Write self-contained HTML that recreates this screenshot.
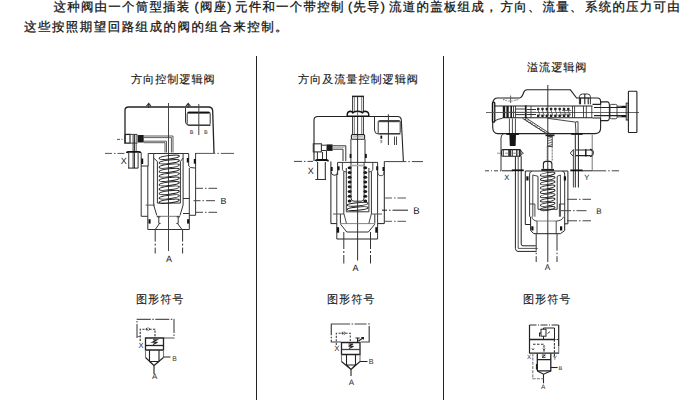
<!DOCTYPE html>
<html><head><meta charset="utf-8">
<style>
html,body{margin:0;padding:0;background:#fff;}
body{width:690px;height:400px;position:relative;overflow:hidden;font-family:"Liberation Sans",sans-serif;color:#111;text-rendering:geometricPrecision;}
.t{position:absolute;white-space:nowrap;line-height:1;}
.p1{left:53px;top:1px;font-size:12.5px;letter-spacing:1.2px;-webkit-text-stroke:0.25px #111;}
.p2{left:24px;top:21px;font-size:12.5px;letter-spacing:1.45px;-webkit-text-stroke:0.25px #111;}
.h{font-size:11.2px;letter-spacing:0.9px;color:#151515;-webkit-text-stroke:0.12px #151515;}
svg{position:absolute;left:0;top:0;}
</style></head><body>
<div class="t p1" style="left:53.5px">这种阀由一个筒型插装</div>
<div class="t p1" style="left:194.6px">(阀座)</div>
<div class="t p1" style="left:235px">元件和一个带控制</div>
<div class="t p1" style="left:348px">(先导)</div>
<div class="t p1" style="left:389.1px">流道的盖板组成，</div>
<div class="t p1" style="left:500.6px">方向、</div>
<div class="t p1" style="left:542.6px">流量、</div>
<div class="t p1" style="left:585px">系统的压力可由</div>
<div class="t p2">这些按照期望回路组成的阀的组合来控制。</div>
<div class="t h" style="left:131px;top:74.5px">方向控制逻辑阀</div>
<div class="t h" style="left:298px;top:74.5px">方向及流量控制逻辑阀</div>
<div class="t h" style="left:527px;top:62.5px">溢流逻辑阀</div>
<div class="t h" style="left:136px;top:294.5px">图形符号</div>
<div class="t h" style="left:327px;top:294.5px">图形符号</div>
<div class="t h" style="left:523px;top:294.5px">图形符号</div>
<div style="position:absolute;left:256px;top:56px;width:1px;height:344px;background:#222"></div>
<div style="position:absolute;left:443px;top:56px;width:1px;height:344px;background:#222"></div>
<svg width="690" height="400" viewBox="0 0 690 400">
<g id="d1" fill="none" stroke="#333" stroke-width="1">
 <!-- cover -->
 <path d="M125,144 L125,110.5 Q125,107 128.5,107 L208.5,107 Q212.5,107 212.7,111 L214,153" stroke="#222" stroke-width="1.3"/>
 <path d="M146.5,106.2 l2.2,-2.8 l2.2,2.8 M148.7,104 v4 M186,106.2 l2.2,-2.8 l2.2,2.8 M188.2,104 v4" stroke-width="1.1"/>
 <path d="M185.5,107.5 V121 Q185.5,125.4 190,125.4 H210.5" stroke-width="1"/>
 <rect x="187.2" y="112" width="23" height="13" rx="1.5"/>
 <path d="M188,112.8 H209.5" stroke="#111" stroke-width="1.6"/>
 <text x="189.7" y="133.8" font-size="5.5" fill="#333" stroke="none" font-family="Liberation Sans">B</text>
 <text x="204" y="133.8" font-size="5.5" fill="#333" stroke="none" font-family="Liberation Sans">B</text>
 <path d="M198.8,104 V135" stroke="#444"/>
 <!-- centerline -->
 <path d="M168.5,103 V251" stroke="#444"/>
 <!-- fitting & pipe -->
 <path d="M130,134.4 H126.5 Q125,134.4 125,136 V141.5 Q125,143.1 126.5,143.1 H130 Z" stroke="#222" stroke-width="1.1"/>
 <rect x="137.5" y="135" width="6.2" height="7.5" fill="#1a1a1a" stroke="none"/>
 <path d="M130,134.4 H137.5 M130,143.1 H137.5" stroke-width="0.9"/>
 <path d="M133.1,134.4 V168.1 M134.5,134.4 V168.1" stroke="#222" stroke-width="0.9"/>
 <path d="M136.2,134.4 V151" stroke-width="0.8"/>
 <path d="M128.75,153 V168.1 M138.1,153 V168.1" stroke-width="1"/>
 <path d="M143.7,136 H173 V152.5 M143.7,137.6 H171.4 V152.5 M143.7,141.2 H166.5 V152.5 M143.7,142.7 H165 V152.5" stroke-width="0.8"/>
 <path d="M117,139.4 H125" stroke="#555" stroke-dasharray="3,1.5,1,1.5"/>
 <path d="M128.1,168.1 H138.1" stroke="#222"/>
 <!-- body top line -->
 <path d="M105,153.4 H124.5" stroke="#555" stroke-dasharray="7,2,1.5,2"/>
 <path d="M126.5,152.8 Q127,151.8 129,151.8 H138.5 Q140.6,151.8 140.6,153" stroke="#111" stroke-width="1.8"/>
 <path d="M195.3,153.4 H234" stroke="#555" stroke-dasharray="20,2,1.5,2,15"/>
 <!-- body walls -->
 <path d="M141.2,153 V216.3 M195.6,153 V215.3"/>
 <!-- cap -->
 <path d="M148.2,166 V153.5 H188.7 V166 Q189,168 195,168"/>
 <path d="M141,166 H148.2"/>
 <path d="M147.8,166 V229.5 M153.7,153.5 V205 M183.1,153.5 V205 M189.3,168 V229.5"/>
 <rect x="141.2" y="158.5" width="2" height="5.5" fill="#111" stroke="none"/>
 <rect x="186.8" y="158" width="2" height="4.5" fill="#111" stroke="none"/>
 <rect x="193.8" y="159" width="2" height="4.7" fill="#111" stroke="none"/>
 <!-- spring -->
 <path d="M153.7,158 L157.4,161.5 V203.1 H180.4 V161.5 L183.1,158"/>
 <g stroke="#222" stroke-width="1">
  <ellipse cx="169.2" cy="157.3" rx="10.2" ry="1.75" transform="rotate(-7 169.2 157.3)"/>
  <ellipse cx="169.2" cy="161.7" rx="10.2" ry="1.75" transform="rotate(-7 169.2 161.7)"/>
  <ellipse cx="169.2" cy="166.1" rx="10.2" ry="1.75" transform="rotate(-7 169.2 166.1)"/>
  <ellipse cx="169.2" cy="170.5" rx="10.2" ry="1.75" transform="rotate(-7 169.2 170.5)"/>
  <ellipse cx="169.2" cy="174.9" rx="10.2" ry="1.75" transform="rotate(-7 169.2 174.9)"/>
  <ellipse cx="169.2" cy="179.3" rx="10.2" ry="1.75" transform="rotate(-7 169.2 179.3)"/>
  <ellipse cx="169.2" cy="183.7" rx="10.2" ry="1.75" transform="rotate(-7 169.2 183.7)"/>
  <ellipse cx="169.2" cy="188.1" rx="10.2" ry="1.75" transform="rotate(-7 169.2 188.1)"/>
  <ellipse cx="169.2" cy="192.5" rx="10.2" ry="1.75" transform="rotate(-7 169.2 192.5)"/>
  <ellipse cx="169.2" cy="196.9" rx="10.2" ry="1.75" transform="rotate(-7 169.2 196.9)"/>
  <ellipse cx="169.2" cy="201.3" rx="10.2" ry="1.75" transform="rotate(-7 169.2 201.3)"/>
 </g>
 <!-- poppet / bottom -->
 <path d="M153.7,205 L156.8,215.5 M183.1,205 L180,215.5"/>
 <path d="M156.8,216.3 H180" stroke="#777"/>
 <path d="M156.8,216.8 H160.4 M158.8,217 V223.4 H160.6 M180,216.8 H176.6 M178.2,217 V223.4 H176.4"/>
 <path d="M159.5,223.4 L155.3,229.5 M177.5,223.4 L182,229.5"/>
 <path d="M147.8,229.5 H189.3"/>
 <rect x="148.5" y="219.2" width="2.1" height="4.4" fill="#111" stroke="none"/>
 <rect x="187.1" y="219.2" width="2.1" height="4.4" fill="#111" stroke="none"/>
 <path d="M141.2,216.3 H147.8 M195.6,215.3 H189.3"/>
 <path d="M145.6,205.1 H155" stroke="#555"/>
 <!-- B window -->
 <path d="M183,198.5 H189.7 M183,213.5 H189.7"/>
 <!-- A port -->
 <path d="M155.2,229.6 V253.5 M182.6,229.6 V253.5" stroke-dasharray="12,2,2,2,6"/>
 <!-- B port -->
 <path d="M196,188.3 H217 M193.5,200.7 H218 M196,212.3 H217" stroke="#444" stroke-dasharray="7,2,1.5,2,9"/>
</g>
<text x="166.1" y="261.5" font-size="9" fill="#222" font-family="Liberation Sans">A</text>
<text x="220.4" y="204" font-size="8.8" fill="#222" font-family="Liberation Sans">B</text>
<text x="120.7" y="163.6" font-size="9" fill="#222" font-family="Liberation Sans">X</text>
<g id="d2" fill="none" stroke="#333" stroke-width="1">
 <!-- stem -->
 <path d="M352.6,135 V96.4 H363.4 V135" stroke-width="1"/>
 <path d="M352,96.4 H364" stroke="#222" stroke-width="1.4"/>
 <path d="M354.4,97 V134.5 M361.6,97 V134.5" stroke="#666" stroke-width="0.8"/>
 <path d="M357.6,97 V260.5" stroke="#333"/>
 <!-- lock nut -->
 <path d="M347.2,116.3 V114.5 Q347.5,111.3 350.5,111.3 Q352.6,111.5 352.8,113.5 Q353,111.2 357.6,111.2 Q362.2,111.2 362.4,113.5 Q362.6,111.5 364.7,111.3 Q368.5,111.3 368.8,114.5 V116.3 Z" fill="#fff" stroke="#111" stroke-width="1.4"/>
 <path d="M357.6,111.5 V116" stroke="#555" stroke-width="0.8"/>
 <!-- cover -->
 <path d="M314,161 V120 Q314,116.5 318,116.5 H347 M369,116.5 H397.5 Q401,116.5 401.3,120 L403.4,161.5" stroke="#222" stroke-width="1.1"/>
 <path d="M374.5,117 V130 Q374.5,134 378.5,134 H400.5"/>
 <rect x="378.2" y="120.6" width="22" height="13" rx="1.2"/>
 <path d="M379,121.4 H399.5" stroke="#444" stroke-width="1.6"/>
 <path d="M388.4,114.3 V145" stroke="#333"/>
 <path d="M381.3,135.6 V138.7" stroke="#111" stroke-width="1.8"/>
 <path d="M381.3,139.7 V143.1" stroke="#999" stroke-width="1.8"/>
 <path d="M394.5,136.5 V145 M396.5,136.5 V145" stroke-width="0.9"/>
 <!-- stem guide -->
 <rect x="351.4" y="134.6" width="13.2" height="4.6" rx="1" stroke="#222" stroke-width="1.1"/>
 <path d="M352.5,136.9 H363.5" stroke="#777" stroke-width="0.8"/>
 <path d="M350.9,162.5 V139.2 M365,162.5 V139.2"/>
 <rect x="349.6" y="153.9" width="1.8" height="4.1" fill="#111" stroke="none"/>
 <rect x="365" y="153.9" width="1.8" height="4.1" fill="#111" stroke="none"/>
 <!-- fitting & pipe -->
 <rect x="313.3" y="143.8" width="8.1" height="8.1" stroke-width="1.1"/>
 <rect x="326.5" y="144.4" width="6.1" height="6.5" fill="#1a1a1a" stroke="none"/>
 <path d="M321.4,145.2 H326.5 M321.4,150.5 H326.5"/>
 <path d="M332.6,145.8 H345.8 V161 M332.6,149.2 H343 V161"/>
 <path d="M332.6,147.5 H344.5" stroke="#999" stroke-width="0.7"/>
 <path d="M317.4,152 V161 M322.5,152 V161 M326.5,151 V161"/>
 <!-- body top -->
 <path d="M294,161.4 H313" stroke="#444" stroke-dasharray="8,2,1.5,2"/>
 <path d="M315.5,161 Q316,160 318,160 H326 Q328,160 328.3,161.4" stroke="#111" stroke-width="1.8"/>
 <path d="M384.3,161.6 H423" stroke="#444" stroke-dasharray="22,2,1.5,2,20"/>
 <path d="M317.6,162 V179 M325.3,162 V179 M315.4,179.5 H326.1" stroke-width="1.1"/>
 <!-- body -->
 <path d="M330.9,161.4 V223.6 H337 M384.3,161.6 V223.6 H377.5" stroke="#222"/>
 <path d="M337.6,175 V162.4 H377.6 V175"/><path d="M331.2,171.5 Q331.2,175.2 334,175.2 H335 Q337.6,175.2 337.6,171.5 M377.6,171.5 Q377.6,175.6 380.5,175.6 H381.5 Q384,175.6 384,171.5"/>
 <path d="M336.8,175 V239 M377.6,175 V239"/>
 <path d="M343.8,172 V214 M371.4,172 V214 M340.4,214 V223.6 M374.8,214 V223.6"/>
 <path d="M342.4,162.4 V169.5 Q342.6,172 346.3,172 M372.8,162.4 V169.5 Q372.6,172 368.9,172" stroke-width="0.9"/>
 <rect x="337.6" y="166.3" width="2" height="4" fill="#111" stroke="none"/>
 <rect x="376.2" y="166.3" width="2" height="4" fill="#111" stroke="none"/>
 <rect x="330.9" y="167" width="1.8" height="4" fill="#111" stroke="none"/>
 <rect x="382.5" y="167" width="1.8" height="4" fill="#111" stroke="none"/>
 <!-- stem inside + spring -->
 <path d="M351,162 V198 Q351,201.2 354,201.2 H361.2 Q364.1,201.2 364.1,198 V162" />
 <path d="M351,165.5 H364.1" stroke="#aaa" stroke-width="1.6"/>
 <path d="M346.3,168 V211.8 H368.9 V168"/>
 <g fill="#1a1a1a" stroke="none">
  <ellipse cx="349.6" cy="167.8" rx="1.9" ry="1.5"/><ellipse cx="365.3" cy="167.8" rx="1.9" ry="1.5"/>
  <ellipse cx="349.6" cy="172.6" rx="1.9" ry="1.5"/><ellipse cx="365.3" cy="172.6" rx="1.9" ry="1.5"/>
  <ellipse cx="349.6" cy="177.3" rx="1.9" ry="1.5"/><ellipse cx="365.3" cy="177.3" rx="1.9" ry="1.5"/>
  <ellipse cx="349.6" cy="182.1" rx="1.9" ry="1.5"/><ellipse cx="365.3" cy="182.1" rx="1.9" ry="1.5"/>
  <ellipse cx="349.6" cy="186.8" rx="1.9" ry="1.5"/><ellipse cx="365.3" cy="186.8" rx="1.9" ry="1.5"/>
  <ellipse cx="349.6" cy="191.6" rx="1.9" ry="1.5"/><ellipse cx="365.3" cy="191.6" rx="1.9" ry="1.5"/>
  <ellipse cx="349.6" cy="196.3" rx="1.9" ry="1.5"/><ellipse cx="365.3" cy="196.3" rx="1.9" ry="1.5"/>
  <ellipse cx="349.6" cy="201.1" rx="1.9" ry="1.5"/><ellipse cx="365.3" cy="201.1" rx="1.9" ry="1.5"/>
</g>
<g stroke="#222" stroke-width="1" fill="none">
  <ellipse cx="357.6" cy="204.3" rx="10.5" ry="1.6" transform="rotate(-5 357.6 204.3)"/>
  <ellipse cx="357.6" cy="208.6" rx="10.5" ry="1.6" transform="rotate(-5 357.6 208.6)"/>
 </g>
 <!-- poppet / bottom -->
 <path d="M333,214 H344 M371.3,214 H382" stroke="#555"/>
 <path d="M344,214 L346.5,223.6 M371.3,214 L368.8,223.6" stroke-width="0.9"/>
 <path d="M336.8,239 H377.6" stroke="#222"/>
 <path d="M340.5,224.2 L346.8,232 H368.4 L374.8,224.2"/>
 <path d="M340.5,223.6 H374.5" stroke="#666" stroke-width="0.8"/>
 <rect x="336.8" y="227.2" width="2.3" height="5.5" fill="#111" stroke="none"/>
 <rect x="375.3" y="227.2" width="2.3" height="5.5" fill="#111" stroke="none"/>
 <!-- A port -->
 <path d="M343.8,232 V263.5 M370.5,232 V263.5" stroke-dasharray="17,2,2,2,10"/>
 <!-- B port -->
 <path d="M385,198 H406 M385,221.3 H406" stroke="#555" stroke-dasharray="7,2,1.5,2,9"/><path d="M382,210.2 H408" stroke="#222" stroke-dasharray="5,2,1.5,2,17"/>
</g>
<text x="352.4" y="271" font-size="9" fill="#222" font-family="Liberation Sans">A</text>
<text x="413.2" y="214" font-size="9.6" fill="#222" font-family="Liberation Sans">B</text>
<text x="307.7" y="174" font-size="9" fill="#222" font-family="Liberation Sans">X</text>
<g id="d3" fill="none" stroke="#333" stroke-width="1">
 <!-- cover outline -->
 <path d="M492.7,127 V103 Q493.5,98 497.5,98 H519.6 Q522,97.5 523.5,93 Q524.5,89.8 527,89.8 H570.4 L576.6,98 H597.3 Q600.6,98 600.6,101.5 V104.4" stroke="#222" stroke-width="1.1"/>
 <path d="M600.6,120.6 V128 Q600.6,133.6 595,133.6 H498 Q492.7,133.6 492.7,127" stroke="#222" stroke-width="1.1"/>
 <path d="M503,99.7 Q510.5,96.8 518.2,99.7 Q510.5,102.4 503,99.7" stroke="#777" stroke-width="0.8" stroke-dasharray="2,1"/>
 <path d="M510.6,95.5 V103" stroke="#555" stroke-width="0.9"/>
 <!-- bore -->
 <path d="M494,106 H592.5 M502.4,117.8 H592.5" stroke="#222" stroke-width="1.1"/>
 <path d="M494.2,121 Q498,119 502.4,118.3" />
 <rect x="492.4" y="102.2" width="2.4" height="20" rx="1" fill="#bbb" stroke="#111" stroke-width="1.2"/>
 <path d="M486,112.5 H639" stroke="#555" stroke-width="0.9"/>
 <!-- spool internals -->
 <g fill="#1a1a1a" stroke="none">
  <rect x="502.8" y="106" width="2.4" height="12"/>
  <rect x="506.4" y="106" width="2.3" height="12"/>
  <rect x="510.4" y="106" width="1.6" height="12"/>
  <rect x="524.9" y="105.5" width="1.7" height="13"/>
 </g>
 <path d="M513.5,106 V118 M515.5,106 V118 M531,106 V118" stroke-width="0.9"/>
 <path d="M515.5,109 H524.9 M515.5,114.6 H524.9 M526.6,109.5 H536 M526.6,114.5 H536"/>
 <path d="M503,112.3 H536" stroke="#555" stroke-width="0.8"/>
 <g fill="#222" stroke="none"><rect x="537.0" y="107.8" width="2.4" height="2.4" rx="0.6"/><rect x="537.0" y="114.6" width="2.4" height="2.4" rx="0.6"/><rect x="541.3" y="107.8" width="2.4" height="2.4" rx="0.6"/><rect x="541.3" y="114.6" width="2.4" height="2.4" rx="0.6"/><rect x="545.6" y="107.8" width="2.4" height="2.4" rx="0.6"/><rect x="545.6" y="114.6" width="2.4" height="2.4" rx="0.6"/><rect x="549.9" y="107.8" width="2.4" height="2.4" rx="0.6"/><rect x="549.9" y="114.6" width="2.4" height="2.4" rx="0.6"/><rect x="554.2" y="107.8" width="2.4" height="2.4" rx="0.6"/><rect x="554.2" y="114.6" width="2.4" height="2.4" rx="0.6"/><rect x="558.5" y="107.8" width="2.4" height="2.4" rx="0.6"/><rect x="558.5" y="114.6" width="2.4" height="2.4" rx="0.6"/><rect x="562.8" y="107.8" width="2.4" height="2.4" rx="0.6"/><rect x="562.8" y="114.6" width="2.4" height="2.4" rx="0.6"/><rect x="567.1" y="107.8" width="2.4" height="2.4" rx="0.6"/><rect x="567.1" y="114.6" width="2.4" height="2.4" rx="0.6"/></g>
 <path d="M537.8,109.5 L540.0,115.5 M542.1,109.5 L544.3,115.5 M546.4,109.5 L548.6,115.5 M550.7,109.5 L552.9,115.5 M555.0,109.5 L557.2,115.5 M559.3,109.5 L561.5,115.5 M563.6,109.5 L565.8,115.5 M567.9,109.5 L570.1,115.5 " stroke="#444" stroke-width="0.8"/>
 <path d="M562,110.5 H571 M562,114.2 H571" stroke="#555" stroke-width="0.8"/>
 <path d="M572.5,106 V118 M574.6,106 V118 M583.5,106 V118 M586.3,106 V118 M591.8,106 V118" stroke-width="0.9"/>
 <path d="M547.8,85 V262" stroke="#333"/>
 <!-- top screw right -->
 <path d="M579.4,104.3 V96.5 Q579.8,94 582.5,94 H587.5 Q590.2,94 590.4,96.5 V104.3" stroke-width="1"/>
 <path d="M579.6,98 H590.2" stroke-width="0.8"/>
 <path d="M580.5,98 V104.3 M584.8,94 V104.3 M588.2,98 V104.3" stroke="#222" stroke-width="1.1"/>
 <!-- adjusting nut & screw & handwheel -->
 <path d="M592.5,104.4 H600.6 V101.9 H608 Q609.4,102.5 609.4,105 V117.5 Q609.4,120 608,120.6 H600.6 V118 H592.5" stroke="#222" stroke-width="1.1"/>
 <path d="M600.6,104.4 V118" stroke="#555" stroke-width="0.8"/>
 <path d="M610,105.5 Q610,104.4 611.5,104.4 H615.5 Q617,104.4 617,105.5 V117.6 Q617,118.75 615.5,118.75 H611.5 Q610,118.75 610,117.6 Z" stroke-width="0.9"/>
 <path d="M594,107.5 H626.2 M594,115.6 H626.2" stroke="#222" stroke-width="1.1"/>
 <path d="M617,106.25 H626.2 M617,116.9 H626.2" stroke-width="0.9"/>
 <path d="M621.5,106.8 H626.2 M621.5,116.2 H626.2" stroke="#111" stroke-width="1.6"/>
 <rect x="626.2" y="103.1" width="1.9" height="16.9" stroke-width="1"/>
 <rect x="628.4" y="91.3" width="8.5" height="41.2" rx="0.6" stroke="#222" stroke-width="1.1"/>
 <!-- diagonal passages -->
 <path d="M522.5,118.3 L547,134 M526.5,118.3 L550.5,134" stroke-width="0.9"/>
 <path d="M524,119.5 l2.2,0 M526.3,121 l2.2,0 M528.6,122.5 l2.2,0 M530.9,124 l2.2,0 M533.2,125.5 l2.2,0 M535.5,127 l2.2,0 M537.8,128.5 l2.2,0 M540.1,130 l2.2,0 M542.4,131.5 l2.2,0 M544.7,133 l2.2,0" stroke="#444" stroke-width="1.1"/>
 <path d="M547.8,118.3 L575.3,122.1 L578,121.5 V133.6 M575.3,122.1 L576,133.6" stroke-width="0.9"/>
 <!-- left pipe X -->
 <path d="M509.4,118.5 V133 M512.4,118.5 V133 M515.4,118.5 V133" stroke-width="0.9"/>
 <path d="M506.4,134" stroke="#111" stroke-width="2"/>
 <path d="M506.4,134 H519" stroke="#111" stroke-width="1.8"/>
 <path d="M509.4,134.6 H516 L515.6,146 H509.8 Z" fill="#151515" stroke="none"/>
 <path d="M501,170.6 V138 Q501,134.5 503.5,134"/>
 <rect x="501.6" y="149.6" width="19.2" height="6.6" rx="1.2" stroke="#222" stroke-width="1.1"/>
 <path d="M503.4,149.6 V156.2 M512.4,149.6 V156.2" stroke-width="0.9"/>
 <rect x="508.2" y="149.6" width="3" height="6.6" fill="#333" stroke="none"/>
 <path d="M516.8,149.6 V156.2 M519.5,149.4 V156.4" stroke="#222" stroke-width="1.3"/>
 <path d="M520.8,150.5 L523,153.2 L520.8,155.5" stroke-width="0.8"/>
 <path d="M497,153.2 H524" stroke="#666" stroke-width="0.7" stroke-dasharray="4,1.5,1,1.5"/>
 <path d="M515.4,156.2 V248.4 Q515.6,251.4 518,251.4 H536.6" stroke="#222" stroke-width="1"/>
 <path d="M518.2,156.2 V248.4 H537.7" stroke="#555" stroke-width="1"/>
 <path d="M521.2,156.2 V244 Q521.2,245.8 523,245.8 H535.8" stroke="#222" stroke-width="1"/>
 <path d="M511.8,170.3 H523.8" stroke="#111" stroke-width="1.8"/>
 <!-- right pipe Y -->
 <path d="M571.2,134 H582.6" stroke="#111" stroke-width="1.6"/>
 <path d="M573.4,149.4 V187.5" stroke-width="0.9"/>
 <path d="M575.3,134 V187.5 M578.4,134 V187.5" stroke="#222" stroke-width="1"/>
 <path d="M573.4,149.6 L570.3,153.1 L573.4,156.4" stroke-width="1"/>
 <path d="M575.6,150 H590 M575.6,155.6 H590" stroke="#222" stroke-width="1.1"/>
 <path d="M585.8,149.3 V156.5" stroke="#111" stroke-width="1.4"/>
 <path d="M590,149.5 Q593,149.5 593,152.8 Q593,156.2 590,156.2" stroke="#111" stroke-width="1.5"/>
 <path d="M570.3,170.4 H582.6" stroke="#111" stroke-width="1.8"/>
 <path d="M592.2,134.5 V170.6" stroke="#777"/>
 <!-- center pilot connector -->
 <path d="M545.5,135.3 H554.5" stroke="#222" stroke-width="1.8"/>
 <rect x="547.7" y="136.5" width="4.5" height="10" fill="#fff" stroke="#333" stroke-width="0.9"/>
 <path d="M547.7,138.5 l4.5,-1.5 M547.7,141 l4.5,-1.5 M547.7,143.5 l4.5,-1.5 M547.7,146 l4.5,-1.5" stroke="#444" stroke-width="0.8"/>
 <path d="M547.2,146.5 V161 M552.2,146.5 V161" stroke="#555" stroke-width="0.9" stroke-dasharray="2,1"/>
 <path d="M543.4,168.8 V164 Q543.4,161.4 546,161.4 H549.3 Q551.9,161.4 551.9,164 V168.8" stroke="#222" stroke-width="1.1"/>
 <path d="M541.3,169.9 H554" stroke="#222" stroke-width="2"/>
 <!-- body top -->
 <path d="M485,170.8 H501.7" stroke="#444" stroke-dasharray="4,2,1,2"/>
 <path d="M501.7,170.8 H513 M581.7,170.8 H592.2" stroke="#222"/>
 <path d="M525.3,171 H567.9" stroke="#222"/>
 <path d="M592.2,170.8 H619" stroke="#444" stroke-dasharray="14,2,1.5,2,20"/>
 <!-- body -->
 <path d="M525.3,171 V224.5 H530.6 M567.9,171 V223.8 H564.7" stroke="#222"/>
 <path d="M529.6,216.7 V174 Q529.6,171.4 532,171.4 M564.7,216.7 V174 Q564.7,171.4 562.3,171.4"/>
 <path d="M532.8,175 V216.7 M560.4,175 V216.7" stroke-width="0.9"/>
 <path d="M538,176.3 V209.3 H557.2 V176.3"/>
 <path d="M532.8,175 L538,176.3 M560.4,175 L557.2,176.3" stroke-width="0.9"/>
 <rect x="526.3" y="176.3" width="2.2" height="4.2" fill="#111" stroke="none"/>
 <rect x="563.8" y="176.3" width="2.2" height="4.2" fill="#111" stroke="none"/>
 <path d="M529.6,204 H534.9 V216.7 M564.7,204 H559.4 V216.7" stroke-width="0.9"/>
 <g stroke="#222" stroke-width="1" fill="none">
  <ellipse cx="547.7" cy="174.2" rx="7.4" ry="1.6" transform="rotate(-9 547.7 174.2)"/>
  <ellipse cx="547.7" cy="178.5" rx="7.4" ry="1.6" transform="rotate(-9 547.7 178.5)"/>
  <ellipse cx="547.7" cy="182.8" rx="7.4" ry="1.6" transform="rotate(-9 547.7 182.8)"/>
  <ellipse cx="547.7" cy="187.1" rx="7.4" ry="1.6" transform="rotate(-9 547.7 187.1)"/>
  <ellipse cx="547.7" cy="191.4" rx="7.4" ry="1.6" transform="rotate(-9 547.7 191.4)"/>
  <ellipse cx="547.7" cy="195.7" rx="7.4" ry="1.6" transform="rotate(-9 547.7 195.7)"/>
  <ellipse cx="547.7" cy="200.0" rx="7.4" ry="1.6" transform="rotate(-9 547.7 200.0)"/>
  <ellipse cx="547.7" cy="204.3" rx="7.4" ry="1.6" transform="rotate(-9 547.7 204.3)"/>
  <ellipse cx="547.7" cy="208.6" rx="7.4" ry="1.6" transform="rotate(-9 547.7 208.6)"/>
 </g>
 <!-- poppet / bottom -->
 <path d="M530.6,216.7 V230.5 L533.8,233.7 H560.4 L564.7,230.5 V216.7" stroke="#222"/>
 <path d="M531.7,216.7 Q533,221 537,221 V233.7 M563.6,216.7 Q562,221 556.2,221 V233.7" stroke-width="0.9"/>
 <path d="M537,221 H556.2" stroke="#666" stroke-width="0.8"/>
 <rect x="531.3" y="226.3" width="2.2" height="4.2" fill="#111" stroke="none"/>
 <rect x="560" y="226.3" width="2.2" height="4.2" fill="#111" stroke="none"/>
 <!-- A port -->
 <path d="M536.2,233.7 V262 M557,233.7 V262" stroke-dasharray="17,2,1.5,2,10"/>
 <!-- B port -->
 <path d="M567,199.3 H591 M561,210.7 H593 M567,220.8 H591" stroke="#444" stroke-dasharray="10,2,1.5,2,10"/>
</g>
<text x="544.7" y="270.4" font-size="8.2" fill="#222" font-family="Liberation Sans">A</text>
<text x="596.3" y="214" font-size="8" fill="#222" font-family="Liberation Sans">B</text>
<text x="504.2" y="180.3" font-size="7.6" fill="#222" font-family="Liberation Sans">X</text>
<text x="584.3" y="179.8" font-size="7.6" fill="#222" font-family="Liberation Sans">Y</text>
<g id="s1" fill="none" stroke="#333" stroke-width="1.1">
 <path d="M137,338 V319.3 H174 V338 H164" stroke="#555" stroke-width="1.2" stroke-dasharray="14,1.5,1.5,1.5"/>
 <path d="M137,336.5 H140" stroke="#777"/>
 <path d="M140.2,341 V329.2 H155 V338" stroke="#333" stroke-dasharray="2.2,1.3"/>
 <path d="M145.8,329.2 l1.6,-1.4 M145.8,329.2 l1.6,1.4 M150,329.2 l-1.6,-1.4 M150,329.2 l-1.6,1.4" stroke-width="0.9"/>
 <path d="M145.5,338 H163.5 V350 H145.5 Z" stroke="#222" stroke-width="1.3"/>
 <path d="M145.5,345.5 H163.5" stroke="#222" stroke-width="1.3"/>
 <path d="M153,339.8 H157 L152.5,342.3 H157.5 L153,344.5" stroke="#222" stroke-width="1.1"/>
 <path d="M145.5,350 V357.5 M163.5,350 V357.5" stroke="#777" stroke-width="1.1"/><path d="M145.5,357.5 L154,365.5 L163.5,357.5 M149.5,350 V361.5 H159 V350 M149.5,361.5 L154,365.5 L159,361.5" stroke="#222"/>
 <path d="M163.5,357 H170.5 M154,365.5 V374" stroke="#222"/>
</g>
<text x="152" y="379.3" font-size="8" fill="#333" font-family="Liberation Sans">A</text>
<text x="172.3" y="360.6" font-size="6.8" fill="#333" font-family="Liberation Sans">B</text>
<text x="138.6" y="348.3" font-size="7.6" fill="#333" font-family="Liberation Sans">X</text>
<g id="s2" fill="none" stroke="#333" stroke-width="1.1">
 <path d="M341,342 H331.3 V324 H369.2 V342 H361" stroke="#444" stroke-width="1.2" stroke-dasharray="12,1.5,1.5,1.5,30,1.5,1.5,1.5"/>
 <path d="M336.3,345 V333.2 H350.3 V342" stroke="#444" stroke-dasharray="2.2,1.3"/>
 <path d="M341.6,333.2 l1.6,-1.4 M341.6,333.2 l1.6,1.4 M345.6,333.2 l-1.6,-1.4 M345.6,333.2 l-1.6,1.4" stroke-width="0.9"/>
 <path d="M341.5,342.5 H360 V354.5 H341.5 Z" stroke="#222" stroke-width="1.3"/>
 <path d="M341.5,349.5 H360" stroke="#444" stroke-width="1.3"/>
 <path d="M348.5,344 H353 L348.5,346.3 H353.5 L349,348.5" stroke="#222" stroke-width="1.1"/>
 <path d="M357.6,342 V338 M355.5,338 H359.7 M358.5,341 L363.2,337.8 M361.3,337.6 H363.4 V339.6" stroke="#222" stroke-width="1.2"/>
 <path d="M341.5,354.5 V361.5 M360,354.5 V361.5" stroke="#777" stroke-width="1.1"/><path d="M341.5,361.5 L351,369.5 L360,361.5 M346.5,354.5 V365 H355.5 V354.5 M346.5,365 L351,369.5 L355.5,365" stroke="#222"/>
 <path d="M360,361.5 H367.5 M351,369.5 V376" stroke="#222"/>
</g>
<text x="348.8" y="385.3" font-size="8" fill="#333" font-family="Liberation Sans">A</text>
<text x="368.8" y="364" font-size="7.2" fill="#333" font-family="Liberation Sans">B</text>
<text x="334.2" y="350.6" font-size="7.8" fill="#333" font-family="Liberation Sans">X</text>
<g id="s3" fill="none" stroke="#222" stroke-width="1.1">
 <path d="M529.5,353.4 V325" stroke-width="1.2"/>
 <path d="M529.5,325 H558.7" stroke="#333" stroke-width="1.2" stroke-dasharray="7,1.5,1,1.5"/>
 <path d="M558.7,325 V346" stroke="#222" stroke-width="1.2"/><path d="M558.7,346 V353.4" stroke="#888" stroke-width="1.2"/>
 <path d="M529.5,339.5 H554 M529.5,353.2 H558.7" stroke-width="1.3"/><path d="M554,339.5 H558.7" stroke-dasharray="1.5,1"/>
 <rect x="541" y="329.2" width="5" height="7" stroke-width="1"/>
 <path d="M543.5,329.2 V328 H554.5 V339.2 M543.5,336.2 V339.2 M539,333 H541 M539.5,333 V336.5" stroke-width="1"/>
 <path d="M547.5,333.5 l2.5,-1.8" stroke-width="0.9"/>
 <path d="M554.4,339.2 V357" stroke="#333" stroke-dasharray="2.5,1.2"/>
 <path d="M533,344.2 H544 V353" stroke="#333" stroke-dasharray="2.5,1.5"/>
 <path d="M532,348.5 l1,1.3 l1,-1.3 M543,348.5 l1,1.3 l1,-1.3" stroke-width="1"/>
 <path d="M537.3,353.4 V370 Q537.3,370.9 538.5,370.9 H550.8 V353.4 M537.3,359.6 H550.8" stroke-width="1.3"/>
 <path d="M536.8,364 V369.5" stroke-width="1.8"/>
 <path d="M537.3,370.9 L543.5,374.2 L550.8,370.9 M543.5,374 V383.2" />
 <path d="M541.8,355 H545.3 L542,357.3 H545.6" stroke-width="0.9"/>
 <path d="M532.8,353.4 V378.7 H543.5" stroke="#777" stroke-width="1.1" stroke-dasharray="3,1.2"/>
 <path d="M550.8,367.5 H557.6" />
</g>
<text x="541" y="389.4" font-size="6.6" fill="#333" font-family="Liberation Sans">A</text>
<text x="558.6" y="369.8" font-size="5.6" fill="#333" font-family="Liberation Sans">B</text>
<text x="527" y="359.3" font-size="6.2" fill="#333" font-family="Liberation Sans">X</text>
<text x="552.8" y="359.6" font-size="6.2" fill="#333" font-family="Liberation Sans">Y</text>
</svg></body></html>
